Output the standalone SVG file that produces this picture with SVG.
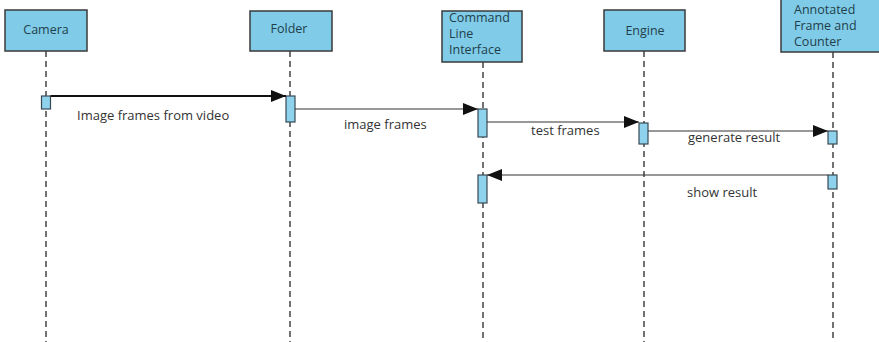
<svg xmlns="http://www.w3.org/2000/svg" width="879" height="342" viewBox="0 0 879 342">
<defs>
<style>
.box{fill:#80cbe8;stroke:#3a3a3a;stroke-width:1.5}
.act{fill:#8fd2ee;stroke:#3a4a55;stroke-width:1.2}
.life{stroke:#444;stroke-width:1.5;stroke-dasharray:6 4;fill:none}
.msg{stroke:#333;stroke-width:1.2;fill:none}
.lbl{font-family:"Open Sans","Liberation Sans",sans-serif;font-size:12.5px;fill:#1f3f4a}
.mtx{font-family:"Open Sans","Liberation Sans",sans-serif;font-size:13px;fill:#333}
</style>
<marker id="arr" markerWidth="16" markerHeight="12" refX="15" refY="6" orient="auto" markerUnits="userSpaceOnUse">
<path d="M0,0 L15,6 L0,12 Z" fill="#111"/>
</marker>
</defs>
<rect width="879" height="342" fill="#fff"/>
<g id="lifelines">
<line class="life" x1="46" y1="51" x2="46" y2="342"/>
<line class="life" x1="290" y1="51" x2="290" y2="342"/>
<line class="life" x1="483" y1="62" x2="483" y2="342"/>
<line class="life" x1="644" y1="51" x2="644" y2="342"/>
<line class="life" x1="833" y1="52" x2="833" y2="342"/>
</g>
<g id="camera"><rect class="box" x="5" y="10" width="82" height="41"/><text class="lbl" x="46" y="34" text-anchor="middle">Camera</text></g>
<g id="folder"><rect class="box" x="250" y="11" width="82" height="40"/><text class="lbl" x="289" y="33" text-anchor="middle">Folder</text></g>
<g id="cli"><rect class="box" x="442" y="11" width="80" height="51"/><text class="lbl" x="449" y="22">Command</text><text class="lbl" x="449" y="38">Line</text><text class="lbl" x="449" y="54">Interface</text></g>
<g id="engine"><rect class="box" x="604" y="10" width="81" height="41"/><text class="lbl" x="645" y="35" text-anchor="middle">Engine</text></g>
<g id="annotated"><rect class="box" x="781" y="-2" width="100" height="54"/><text class="lbl" x="794" y="14">Annotated</text><text class="lbl" x="794" y="30">Frame and</text><text class="lbl" x="794" y="46">Counter</text></g>
<g id="activations">
<rect class="act" x="41.5" y="96" width="9" height="13"/>
<rect class="act" x="286" y="96" width="9" height="26"/>
<rect class="act" x="478" y="109" width="9" height="28"/>
<rect class="act" x="639" y="123" width="9" height="21"/>
<rect class="act" x="828" y="131" width="9" height="13"/>
<rect class="act" x="828" y="175" width="9" height="14"/>
<rect class="act" x="478" y="175" width="9" height="28"/>
</g>
<g id="connectors">
<line class="msg" x1="50.5" y1="96" x2="286" y2="96" marker-end="url(#arr)" style="stroke-width:1.8;stroke:#111"/>
<line class="msg" x1="295" y1="109" x2="478" y2="109" marker-end="url(#arr)"/>
<line class="msg" x1="487" y1="122" x2="639" y2="122" marker-end="url(#arr)"/>
<line class="msg" x1="648" y1="131" x2="828" y2="131" marker-end="url(#arr)"/>
<line class="msg" x1="828" y1="175" x2="487" y2="175" marker-end="url(#arr)"/>
<text class="mtx" x="77" y="120">Image frames from video</text>
<text class="mtx" x="344" y="129">image frames</text>
<text class="mtx" x="531" y="135">test frames</text>
<text class="mtx" x="688" y="142">generate result</text>
<text class="mtx" x="687" y="197">show result</text>
</g>
</svg>
